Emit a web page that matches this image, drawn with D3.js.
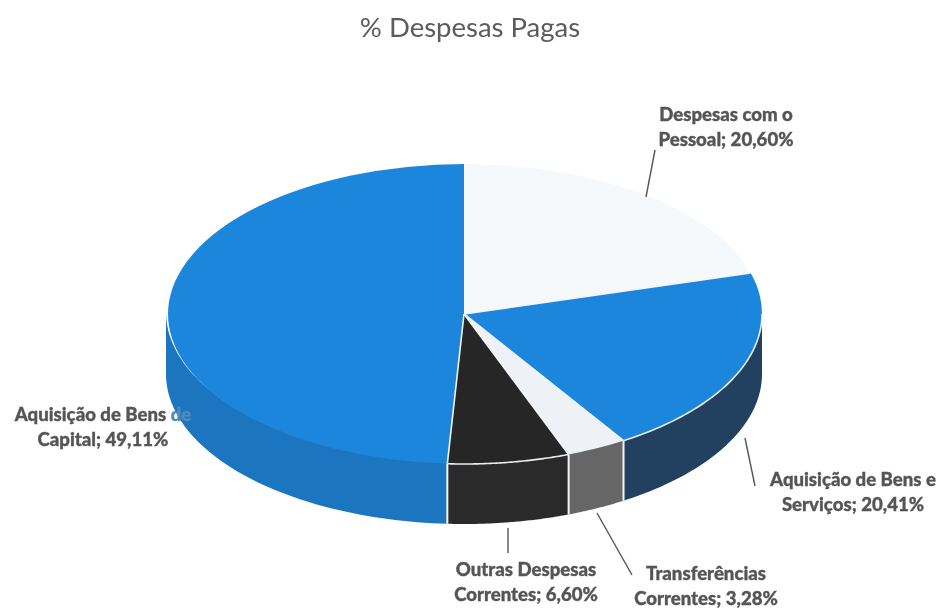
<!DOCTYPE html>
<html><head><meta charset="utf-8">
<script src="https://cdn.jsdelivr.net/npm/d3@7"></script>
<style>
html,body{margin:0;padding:0;background:#fff;overflow:hidden}
svg{display:block}
</style></head><body>
<svg id="chart" width="941" height="610"></svg>
<script>
const title = "% Despesas Pagas";
const categories = ["Despesas com o Pessoal","Aquisição de Bens e Serviços","Transferências Correntes","Outras Despesas Correntes","Aquisição de Bens de Capital"];
const values = [20.60,20.41,3.28,6.60,49.11];
const topColors = ["#f6f9fc","#1e86dd","#eef2f6","#262626","#1e86dd"];
const sideColors = ["#d9dde2","#20415f","#666666","#2c2c2c","#1b76bf"];
const rimSlices = [1,3];
const labelLines = [
  ["Despesas com o","Pessoal; 20,60%"],
  ["Aquisição de Bens e","Serviços; 20,41%"],
  ["Transferências","Correntes; 3,28%"],
  ["Outras Despesas","Correntes; 6,60%"],
  ["Aquisição de Bens de","Capital; 49,11%"]
];
// layout
const cx=464, cy=314, rx=298, ry=150, depth=60;
const labelPos=[[726,121],[853,486],[706,580],[526,576],[103,421]];
const leaders=[[[655,150],[646,197]],[[745,438],[755,486]],[[597,513],[632,575]],[[508,528],[508,553]],null];

const svg=d3.select("#chart");
const defs=svg.append("defs");
defs.append("filter").attr("id","soft").attr("x","-5%").attr("y","-5%").attr("width","110%").attr("height","110%")
  .append("feGaussianBlur").attr("stdDeviation",0.6);
defs.append("filter").attr("id","softText").attr("filterUnits","userSpaceOnUse").attr("x",0).attr("y",0).attr("width",941).attr("height",610)
  .append("feGaussianBlur").attr("stdDeviation",0.35);

const pie=d3.pie().sort(null).value(d=>d).startAngle(0).endAngle(2*Math.PI);
const arcs=pie(values);
const sx=d3.scaleLinear().domain([-1,1]).range([cx-rx,cx+rx]);
const sy=d3.scaleLinear().domain([-1,1]).range([cy-ry,cy+ry]);
const px=a=>sx(Math.sin(a)), py=a=>sy(-Math.cos(a));
const sweep=(a0,a1)=>d3.range(0,61).map(k=>a0+(a1-a0)*k/60);

const g=svg.append("g").attr("filter","url(#soft)");

// side walls: only the front half of the cylinder is visible; they tuck slightly under the top face
const wall=d3.area().x(px).y0(a=>py(a)-2).y1(a=>py(a)+depth);
const walls=arcs.map((d,i)=>({i,a0:Math.max(d.startAngle,Math.PI/2),a1:Math.min(d.endAngle,3*Math.PI/2)}))
  .filter(w=>w.a1>w.a0);
g.selectAll("path.wall").data(walls).join("path").attr("class","wall")
  .attr("d",w=>wall(sweep(w.a0,w.a1)))
  .attr("fill",w=>sideColors[w.i]);
g.selectAll("line.seam").data(walls.slice(0,-1)).join("line").attr("class","seam")
  .attr("x1",w=>px(w.a1)).attr("x2",w=>px(w.a1))
  .attr("y1",w=>py(w.a1)).attr("y2",w=>py(w.a1)+depth)
  .attr("stroke","#f4f6f8").attr("stroke-width",2);

// top face
const arc=d3.arc().innerRadius(0).outerRadius(1);
g.append("g").attr("transform",`translate(${cx},${cy}) scale(${rx},${ry})`)
  .selectAll("path").data(arcs).join("path")
  .attr("d",arc)
  .attr("fill",(d,i)=>topColors[i]);

// white spokes between slices that need them
g.selectAll("line.spoke").data(arcs.slice(0,4)).join("line").attr("class","spoke")
  .attr("x1",cx).attr("y1",cy)
  .attr("x2",d=>px(d.endAngle)).attr("y2",d=>py(d.endAngle))
  .attr("stroke","#f4f6f8").attr("stroke-width",1.6);

// white rim along the front of the dark and Serviços slices
const rim=d3.line().x(px).y(py);
g.selectAll("path.rim").data(rimSlices).join("path").attr("class","rim")
  .attr("d",i=>rim(sweep(Math.max(arcs[i].startAngle,Math.PI/2),arcs[i].endAngle)))
  .attr("fill","none").attr("stroke","#e8edf2").attr("stroke-width",1.6);

// leader lines
const lineGen=d3.line();
svg.append("g").attr("filter","url(#softText)")
  .selectAll("path").data(leaders.filter(Boolean)).join("path")
  .attr("d",lineGen).attr("fill","none").attr("stroke","#555").attr("stroke-width",1.4);

// labels
const labels=svg.append("g").attr("font-family","Lato, 'Open Sans', sans-serif").attr("font-weight",900)
  .attr("font-size",18.6).attr("fill","#555").attr("stroke","#555").attr("stroke-width",0.35)
  .attr("text-anchor","middle").attr("filter","url(#softText)");
labelLines.forEach((lines,i)=>{
  const t=labels.append("text").attr("x",labelPos[i][0]).attr("y",labelPos[i][1]);
  lines.forEach((s,k)=>{
    const ts=t.append("tspan").attr("x",labelPos[i][0]).attr("dy",k?25:0);
    if(i===4&&k===0){
      ts.text("Aquisição de Bens ");
      ts.append("tspan").attr("fill","#4f8cb8").attr("stroke","#4f8cb8").text("de");
    } else ts.text(s);
  });
});

// title
svg.append("text").attr("x",470).attr("y",37).attr("text-anchor","middle")
  .attr("font-family","Lato, 'Open Sans', sans-serif").attr("font-size",27.5).attr("fill","#5c5c5c")
  .attr("filter","url(#softText)").text(title);
</script>
</body></html>
